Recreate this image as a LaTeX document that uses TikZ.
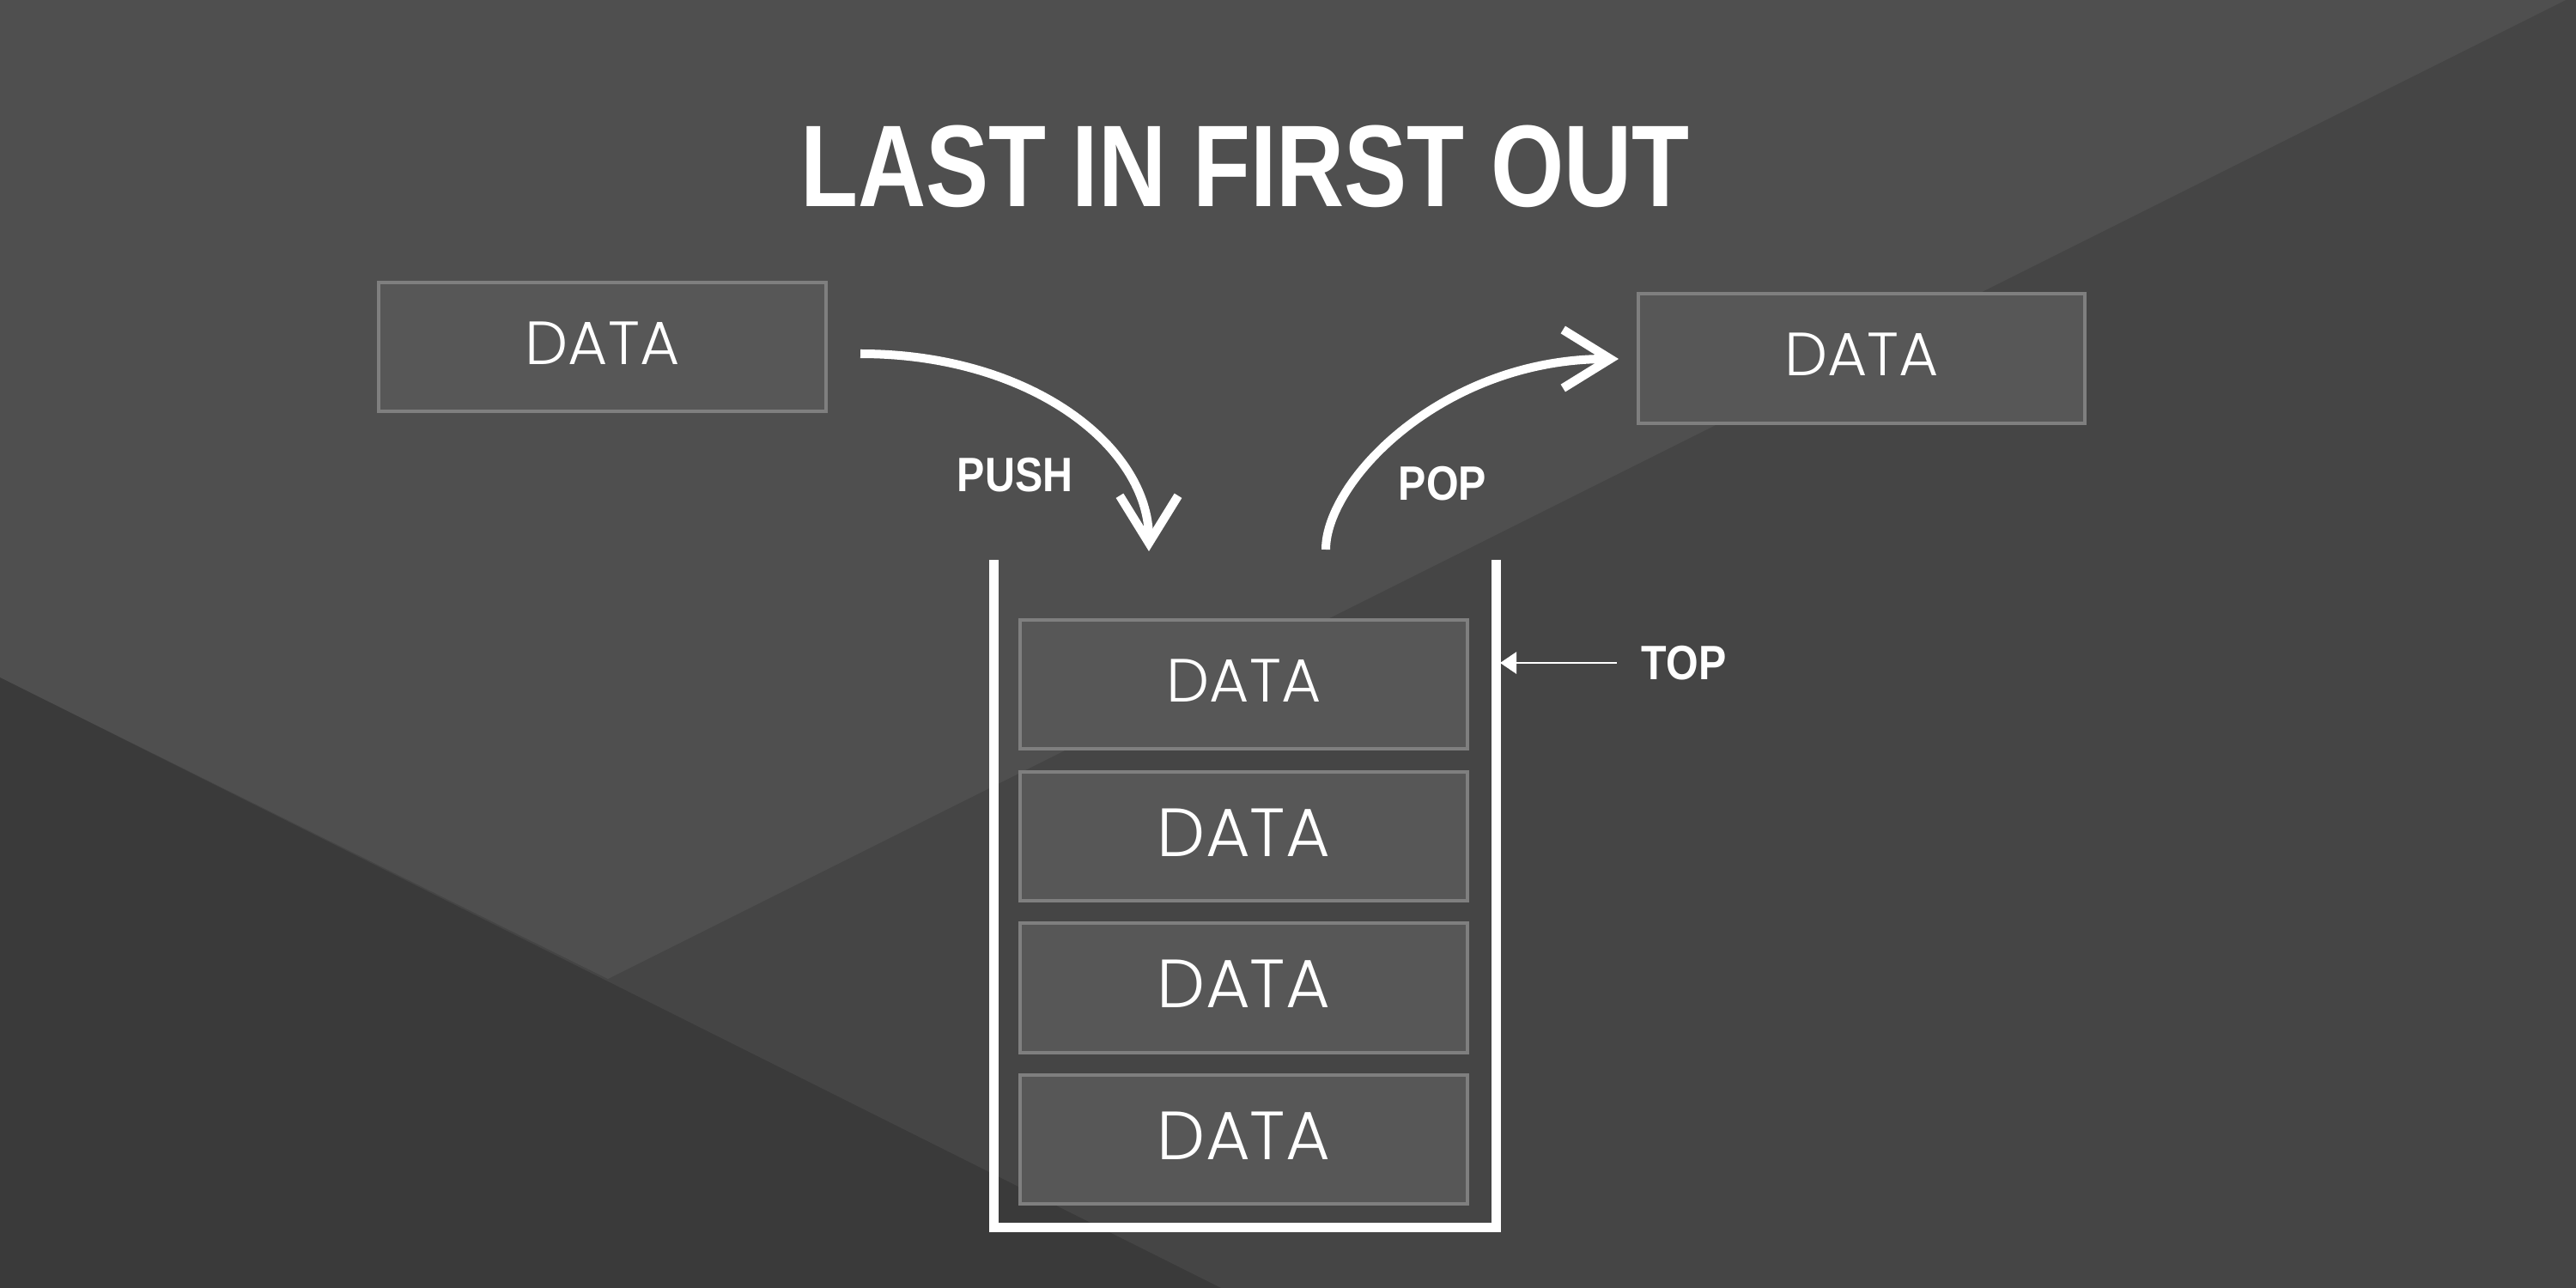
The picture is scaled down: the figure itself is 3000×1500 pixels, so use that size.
\documentclass[tikz,border=0pt]{standalone}
\usepackage{fontspec}
\usetikzlibrary{arrows.meta}
\newfontfamily\titlefont[FakeStretch=0.81]{Liberation Sans}
\newfontfamily\labfont[FakeStretch=0.86]{Liberation Sans}
\IfFontExistsTF{Poppins Light}{\newfontfamily\datafont{Poppins Light}}{\newfontfamily\datafont{Poppins}}
\definecolor{bglight}{HTML}{4F4F4F}
\definecolor{bgmid}{HTML}{454545}
\definecolor{bgdark}{HTML}{3A3A3A}
\definecolor{boxfill}{HTML}{575757}
\definecolor{boxline}{HTML}{7F7F7F}
\tikzset{
  databox/.style={draw=boxline, line width=1.14pt, fill=boxfill, minimum width=5.2cm,
    minimum height=1.5cm, inner sep=0pt, text=white,
    font=\datafont\fontsize{20.2}{22}\selectfont, text depth=0.09cm},
  bigdata/.style={databox, font=\datafont\fontsize{22.6}{24}\selectfont},
  lbl/.style={text=white, font=\labfont\bfseries\fontsize{16}{18}\selectfont, inner sep=0pt, anchor=base},
  flow/.style={draw=white, line width=2.85pt, line cap=butt,
    -{Straight Barb[length=0.55cm, width=0.68cm, line width=2.9pt, sharp]}},
  pointer/.style={draw=white, line width=0.8pt, -{Triangle[length=0.19cm, width=0.25cm]}},
  wall/.style={draw=white, line width=3.13pt, line join=miter},
}
\begin{document}
\begin{tikzpicture}[x=0.01cm, y=-0.01cm]
\useasboundingbox (0,0) rectangle (3000,1500);
% background
\fill[bgmid] (0,0) rectangle (3000,1500);
\fill[bglight] (0,0) -- (2988,0) -- (708,1140) -- (0,789) -- cycle;
\fill[bgdark] (0,789) -- (1422,1500) -- (0,1500) -- cycle;
% title
\node[anchor=base, text=white, inner sep=0pt,
  font=\titlefont\bfseries\fontsize{38.5}{40}\selectfont] (title) at (1450,240) {LAST IN FIRST OUT};
% data boxes
\node[databox] (in) at (701.5,404) {DATA};
\node[databox] (out) at (2168,417.5) {DATA};
\node[databox] (s1) at (1448.5,797) {DATA};
\node[bigdata] (s2) at (1448.5,974) {DATA};
\node[bigdata] (s3) at (1448.5,1150.5) {DATA};
\node[bigdata] (s4) at (1448.5,1327) {DATA};
% stack container
\coordinate (wl) at (1157,652);
\coordinate (bl) at (1157,1429);
\coordinate (br) at (1742,1429);
\coordinate (wr) at (1742,652);
\draw[wall] (wl) -- (bl) -- (br) -- (wr);
% push
\coordinate (pushA) at (1002,412);
\coordinate (pushB) at (1338,642);
\draw[flow] (pushA) .. controls (1200,412) and (1338,520) .. (pushB);
\node[lbl] (push) at (1182,572) {PUSH};
% pop
\coordinate (popA) at (1544,640);
\coordinate (popB) at (1885,418);
\draw[flow] (popA) .. controls (1544,560) and (1680,418) .. (popB);
\node[lbl] (pop) at (1680,582) {POP};
% top pointer
\node[lbl] (top) at (1961,791) {TOP};
\coordinate (topA) at (1883,772);
\coordinate (topB) at (1747,772);
\draw[pointer] (topA) -- (topB);
\end{tikzpicture}
\end{document}
